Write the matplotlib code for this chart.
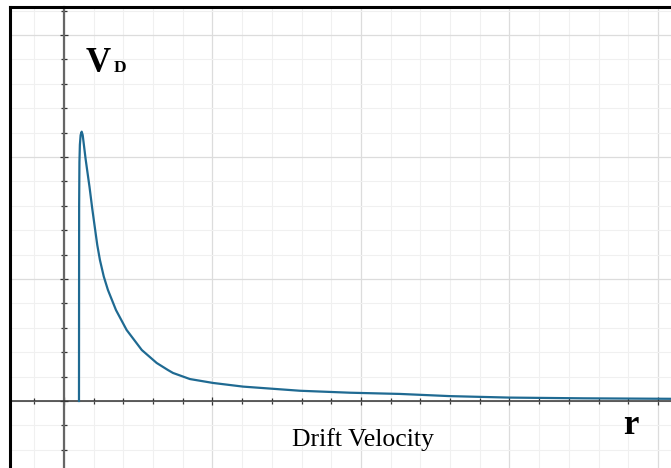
import numpy as np
import matplotlib
matplotlib.use('Agg')
from matplotlib import pyplot as plt
from matplotlib.ticker import MultipleLocator, NullFormatter
from matplotlib.lines import Line2D

# pontos (r, V_D) em unidades de grade
r = [0.505, 0.51, 0.52, 0.535, 0.56, 0.596, 0.63, 0.68, 0.73, 0.86, 0.95,
     1.04, 1.12, 1.21, 1.34, 1.48, 1.75, 2.11, 2.62, 3.12, 3.50, 3.67, 4.24,
     5.02, 6.03, 7.95, 9.63, 11.31, 13.0, 15.0, 17.5, 20.5]
vd = [0.0, 8.0, 9.8, 10.5, 10.9, 11.04, 10.9, 10.4, 9.9, 8.77, 7.9,
      7.1, 6.4, 5.78, 5.1, 4.55, 3.73, 2.91, 2.09, 1.56, 1.27, 1.15, 0.90,
      0.74, 0.59, 0.42, 0.34, 0.29, 0.20, 0.14, 0.11, 0.09]

W, H = 671, 468
fig = plt.figure(figsize=(W/100, H/100), dpi=100)
ax = fig.add_axes([10/W, 0, 1 - 10/W, (H - 7)/H])

ax.plot(r, vd, color='#1f6a92', lw=1.6, solid_joinstyle='round', zorder=5)

ax.set_xlim(-1.818, 20.44)
ax.set_ylim(-2.746, 16.15)

# grade: menor a cada 1, maior a cada 5
for a in (ax.xaxis, ax.yaxis):
    a.set_major_locator(MultipleLocator(5))
    a.set_minor_locator(MultipleLocator(1))
    a.set_major_formatter(NullFormatter())
ax.grid(which='minor', color='#f0f0f0', lw=0.8)
ax.grid(which='major', color='#dcdcdc', lw=0.9)
ax.set_axisbelow(True)

# eixos passando pela origem
ax.spines['left'].set_position(('data', 0))
ax.spines['bottom'].set_position(('data', 0))
ax.spines['right'].set_visible(False)
ax.spines['top'].set_visible(False)
ax.spines['left'].set_color('#666666')
ax.spines['left'].set_linewidth(1.6)
ax.spines['bottom'].set_color('#333333')
ax.spines['bottom'].set_linewidth(1.1)
ax.tick_params(which='both', direction='inout', length=5, width=0.9, colors='#333333')
ax.tick_params(which='major', length=6)

# moldura preta
fig.add_artist(Line2D([10/W, 1], [1 - 7/H, 1 - 7/H], color='black', lw=2.2))
fig.add_artist(Line2D([10/W, 10/W], [0, 1 - 7/H], color='black', lw=2.2))

serif = ['Liberation Serif', 'DejaVu Serif']
fig.text(86/W, 1 - 72/H, 'V', family=serif, fontsize=25, fontweight='bold',
         ha='left', va='baseline')
fig.text(114/W, 1 - 72/H, 'D', family=serif, fontsize=12.5, fontweight='bold',
         ha='left', va='baseline')
fig.text(363/W, 1 - 446/H, 'Drift Velocity', family=serif, fontsize=18.5,
         ha='center', va='baseline')
fig.text(631/W, 1 - 434/H, 'r', family=serif, fontsize=25, fontweight='bold',
         ha='center', va='baseline')

fig.savefig('out.png', dpi=100)
